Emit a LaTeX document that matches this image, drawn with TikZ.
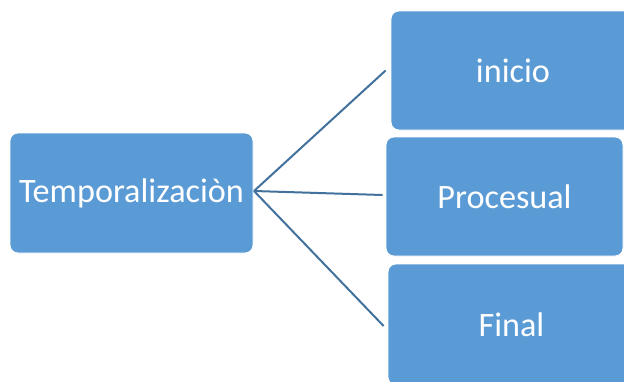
\documentclass[tikz,border=0pt]{standalone}
\usepackage{fontspec}
\setmainfont{Carlito}
\definecolor{boxblue}{HTML}{5B9BD5}
\definecolor{linkblue}{HTML}{41719C}
\begin{document}
\begin{tikzpicture}[x=1pt,y=-1pt,
  box/.style={draw=white,line width=0.8pt,fill=boxblue,rounded corners=8pt,
    text=white,font=\fontsize{34.2}{40}\selectfont,inner sep=0pt},
  link/.style={draw=linkblue,line width=2pt}]
\useasboundingbox (0,0) rectangle (624,381);
\clip (0,0) rectangle (624,381);
\node[box,minimum width=243pt,minimum height=120pt] (T) at (131.5,193) {Temporalizaciòn};
\node[box,minimum width=244pt,minimum height=119pt] (A) at (513,70.5) {inicio};
\node[box,minimum width=237pt,minimum height=119pt] (B) at (504.5,196.5) {Procesual};
\node[box,minimum width=247pt,minimum height=121pt] (C) at (511.5,324.5) {Final};
\coordinate (apex) at (254,191);
\draw[link] (apex) -- ([xshift=-5pt]A.west);
\draw[link] (apex) -- ([xshift=-3pt,yshift=1.5pt]B.west);
\draw[link] (apex) -- ([xshift=-4pt,yshift=-1.5pt]C.west);
\end{tikzpicture}
\end{document}
